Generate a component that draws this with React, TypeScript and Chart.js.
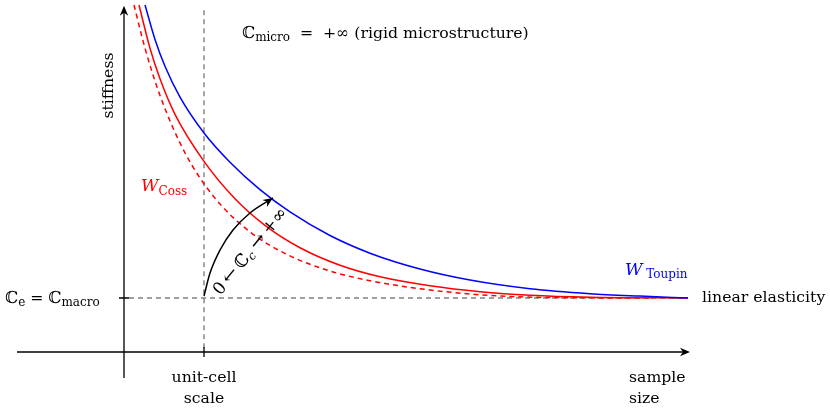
import React, { useEffect, useRef } from "react";
import { Chart, registerables } from "chart.js";

Chart.register(...registerables);

// ---- data (x: sample size, unit-cell = 1; y: stiffness, linear elasticity = 1) ----
const toupinX = [0.2625, 0.3875, 0.5125, 0.7, 1.0, 1.325, 1.7, 2.075, 2.575, 3.075, 3.7, 4.325, 5.075, 5.825, 6.45, 7.05];
const toupinY = [6.426, 5.789, 5.291, 4.72, 4.056, 3.515, 3.007, 2.594, 2.157, 1.83, 1.537, 1.333, 1.172, 1.08, 1.035, 1.0];

const cossX = [0.1875, 0.325, 0.45, 0.6375, 1.0, 1.3875, 1.7625, 2.2, 2.7, 3.2, 3.825, 4.45, 5.075, 5.825, 7.05];
const cossY = [6.426, 5.626, 5.061, 4.402, 3.531, 2.839, 2.346, 1.931, 1.607, 1.394, 1.228, 1.117, 1.05, 1.013, 1.0];

const cossDashX = [0.125, 0.2625, 0.45, 0.7625, 1.125, 1.575, 2.075, 2.575, 3.075, 3.7, 4.325, 4.95, 5.7, 6.575];
const cossDashY = [6.426, 5.626, 4.75, 3.689, 2.872, 2.224, 1.78, 1.5, 1.32, 1.172, 1.074, 1.021, 1.004, 1.0];

const arrowX = [1.0, 1.075, 1.2, 1.3625, 1.575, 1.8625];
const arrowY = [1.037, 1.463, 1.889, 2.259, 2.574, 2.852];

const levelLineX = [0.0625, 7.05];
const levelLineY = [1, 1];
const unitCellLineX = [1, 1];
const unitCellLineY = [6.33, 0];

const pts = (xs: number[], ys: number[]) => xs.map((x, i) => ({ x, y: ys[i] }));

const FAMILY = '"DejaVu Serif", serif';
const FS = 15.7;
const SUB = 12;

type Part = { t: string; size?: number; italic?: boolean; dy?: number };

function partFont(p: Part) {
  return `${p.italic ? "italic " : ""}${p.size ?? FS}px ${FAMILY}`;
}

function drawParts(
  ctx: CanvasRenderingContext2D,
  parts: Part[],
  x: number,
  y: number,
  align: "left" | "center" | "right",
  color: string
) {
  const widths = parts.map((p) => {
    ctx.font = partFont(p);
    return ctx.measureText(p.t).width;
  });
  const total = widths.reduce((a, b) => a + b, 0);
  let cx = align === "left" ? x : align === "center" ? x - total / 2 : x - total;
  ctx.fillStyle = color;
  ctx.textAlign = "left";
  ctx.textBaseline = "alphabetic";
  parts.forEach((p, i) => {
    ctx.font = partFont(p);
    ctx.fillText(p.t, cx, y + (p.dy ?? 0));
    cx += widths[i];
  });
}

function arrowHead(ctx: CanvasRenderingContext2D, x: number, y: number, ang: number) {
  ctx.save();
  ctx.translate(x, y);
  ctx.rotate(ang);
  ctx.beginPath();
  ctx.moveTo(0, 0);
  ctx.lineTo(-10, -4.2);
  ctx.lineTo(-7, 0);
  ctx.lineTo(-10, 4.2);
  ctx.closePath();
  ctx.fillStyle = "#000";
  ctx.fill();
  ctx.restore();
}

const overlay = {
  id: "overlay",
  afterDatasetsDraw(chart: any) {
    const ctx: CanvasRenderingContext2D = chart.ctx;
    const xs = chart.scales.x;
    const ys = chart.scales.y;
    const X = (v: number) => xs.getPixelForValue(v);
    const Y = (v: number) => ys.getPixelForValue(v);
    ctx.save();

    // axes
    ctx.strokeStyle = "#000";
    ctx.lineWidth = 1.3;
    const x0 = X(0), y0 = Y(0);
    const xEnd = X(7.075), yEnd = Y(6.41);
    ctx.beginPath();
    ctx.moveTo(X(-1.3375), y0);
    ctx.lineTo(xEnd - 5, y0);
    ctx.moveTo(x0, Y(-0.4815));
    ctx.lineTo(x0, yEnd + 5);
    ctx.stroke();
    arrowHead(ctx, xEnd, y0, 0);
    arrowHead(ctx, x0, yEnd, -Math.PI / 2);

    // ticks
    ctx.beginPath();
    ctx.moveTo(X(1), y0 - 5);
    ctx.lineTo(X(1), y0 + 5);
    ctx.moveTo(x0 - 5, Y(1));
    ctx.lineTo(x0 + 5, Y(1));
    ctx.stroke();

    // head of the black Cc arrow
    const n = arrowX.length;
    const ax = X(arrowX[n - 1]), ay = Y(arrowY[n - 1]);
    const bx = X(arrowX[n - 2]), by = Y(arrowY[n - 2]);
    arrowHead(ctx, ax, ay, Math.atan2(ay - by, ax - bx));

    // texts
    drawParts(ctx, [
      { t: "ℂ", size: 16.5 },
      { t: "micro", size: SUB, dy: 3 },
      { t: "  =  +∞ (rigid microstructure)" },
    ], 242, 37.5, "left", "#000");

    drawParts(ctx, [
      { t: "ℂ", size: 16.5 },
      { t: "e", size: SUB, dy: 3 },
      { t: " = " },
      { t: "ℂ", size: 16.5 },
      { t: "macro", size: SUB, dy: 3 },
    ], 5, 303, "left", "#000");

    drawParts(ctx, [{ t: "linear elasticity" }], 702, 302, "left", "#000");

    drawParts(ctx, [
      { t: "W", italic: true, size: 17 },
      { t: "Coss", size: SUB, dy: 4 },
    ], 141, 190.5, "left", "#ff0000");

    drawParts(ctx, [
      { t: "W", italic: true, size: 17 },
      { t: " Toupin", size: SUB, dy: 3 },
    ], 625, 275, "left", "#0000ff");

    drawParts(ctx, [{ t: "unit-cell" }], X(1), 382, "center", "#000");
    drawParts(ctx, [{ t: "scale" }], X(1), 403, "center", "#000");
    drawParts(ctx, [{ t: "sample" }], 629, 381.5, "left", "#000");
    drawParts(ctx, [{ t: "size" }], 629, 403, "left", "#000");

    // y label
    ctx.save();
    ctx.translate(113, 85.5);
    ctx.rotate(-Math.PI / 2);
    drawParts(ctx, [{ t: "stiffness" }], 0, 0, "center", "#000");
    ctx.restore();

    // rotated arrow label
    ctx.save();
    ctx.translate(250, 251);
    ctx.rotate((-51 * Math.PI) / 180);
    drawParts(ctx, [
      { t: "0\u2009", size: 17 },
      { t: "←", size: 19 },
      { t: "\u2009ℂ", size: 17.5 },
      { t: "c", size: SUB, italic: true, dy: 3 },
      { t: "\u2009→\u2009", size: 19 },
      { t: "+∞", size: 17.5 },
    ], 0, 5.5, "center", "#000");
    ctx.restore();

    ctx.restore();
  },
};

export default function App() {
  const ref = useRef<HTMLCanvasElement>(null);
  useEffect(() => {
    document.body.style.margin = "0";
    const canvas = ref.current!;
    const common = { pointRadius: 0, fill: false, borderWidth: 1.5 };
    const chart = new Chart(canvas, {
      type: "line",
      data: {
        datasets: [
          { ...common, data: pts(arrowX, arrowY), borderColor: "#000", cubicInterpolationMode: "monotone", order: 0 },
          { ...common, data: pts(toupinX, toupinY), borderColor: "#0000ff", cubicInterpolationMode: "monotone", order: 1 },
          { ...common, data: pts(cossX, cossY), borderColor: "#ff0000", cubicInterpolationMode: "monotone", order: 2 },
          { ...common, data: pts(cossDashX, cossDashY), borderColor: "#ff0000", borderDash: [5, 4], cubicInterpolationMode: "monotone", order: 3 },
          { ...common, borderWidth: 1.4, data: pts(levelLineX, levelLineY), borderColor: "#808080", borderDash: [5, 4], order: 4 },
          { ...common, borderWidth: 1.4, data: pts(unitCellLineX, unitCellLineY), borderColor: "#808080", borderDash: [5, 4], order: 5 },
        ] as any,
      },
      options: {
        animation: false,
        responsive: false,
        maintainAspectRatio: false,
        events: [],
        layout: { padding: 0 },
        plugins: { legend: { display: false }, tooltip: { enabled: false } },
        scales: {
          x: { type: "linear", min: -1.55, max: 8.825, display: false },
          y: { type: "linear", min: -1.0741, max: 6.5185, display: false },
        },
      },
      plugins: [overlay],
    });
    return () => chart.destroy();
  }, []);
  return (
    <div style={{ width: 830, height: 410 }}>
      <canvas ref={ref} width={830} height={410} style={{ display: "block" }} />
    </div>
  );
}
